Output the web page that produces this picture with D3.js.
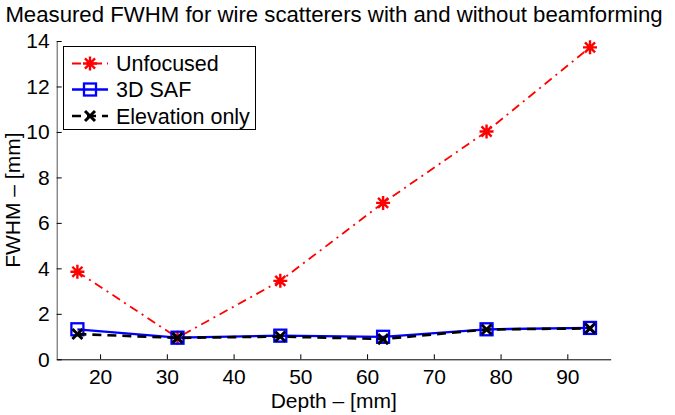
<!DOCTYPE html>
<html><head><meta charset="utf-8">
<script src="https://cdn.jsdelivr.net/npm/d3@7"></script>
<style>body{margin:0;background:#fff}svg{display:block;font-family:"Liberation Sans",Arial,sans-serif}</style>
</head><body><svg id="c" width="675" height="415"></svg>
<script>
const depth = [16.6, 31.6, 47.0, 62.4, 77.9, 93.4];
const unfocused = [3.85, 0.95, 3.45, 6.88, 10.02, 13.72];
const saf3d = [1.32, 0.95, 1.04, 0.99, 1.32, 1.38];
const elevation = [1.11, 0.94, 1.00, 0.89, 1.31, 1.36];
const xTicks = [20, 30, 40, 50, 60, 70, 80, 90];
const yTicks = [0, 2, 4, 6, 8, 10, 12, 14];
const seriesNames = ["Unfocused", "3D SAF", "Elevation only"];

const svg = d3.select("#c");
const x = d3.scaleLinear().domain([13.5, 96.5]).range([56.7, 610.7]);
const y = d3.scaleLinear().domain([0, 14]).range([359.3, 41]);

// axes
const xa = svg.append("g").attr("transform", `translate(0,${y(0)})`)
  .call(d3.axisBottom(x).tickValues(xTicks).tickSizeInner(-5).tickSizeOuter(0).tickPadding(10));
const ya = svg.append("g").attr("transform", `translate(${x.range()[0]},0)`)
  .call(d3.axisLeft(y).tickValues(yTicks).tickSizeInner(-5).tickSizeOuter(0).tickPadding(7));
[xa, ya].forEach(g => {
  g.select(".domain").attr("stroke", "#000").attr("stroke-width", 1);
  g.selectAll(".tick line").attr("stroke", "#000");
  g.selectAll(".tick text").attr("font-size", 21).attr("fill", "#000").attr("font-family", "Liberation Sans, Arial, sans-serif");
});
ya.select(".domain").attr("stroke", "#555");

// labels
svg.append("text").attr("x", 334).attr("y", 22).attr("text-anchor", "middle")
  .attr("font-size", 22.2).text("Measured FWHM for wire scatterers with and without beamforming");
svg.append("text").attr("x", x((13.5+96.5)/2)).attr("y", 408).attr("text-anchor", "middle")
  .attr("font-size", 21).text("Depth – [mm]");
svg.append("text").attr("transform", `translate(20,${y(7)}) rotate(-90)`).attr("text-anchor", "middle")
  .attr("font-size", 21).text("FWHM – [mm]");

const line = d3.line().x(d => x(d[0])).y(d => y(d[1]));
const styles = [
  {vals: unfocused, color: "#ff0000", width: 1.8, dash: "9,5,2,5", marker: "star"},
  {vals: saf3d, color: "#0000ff", width: 2.3, dash: null, marker: "square"},
  {vals: elevation, color: "#000000", width: 2.6, dash: "9,6", marker: "x"}
];

function drawMarker(g, type, cx, cy, color) {
  if (type === "star") {
    const r = 7;
    const p = d3.path();
    p.moveTo(cx - r, cy); p.lineTo(cx + r, cy);
    p.moveTo(cx, cy - r); p.lineTo(cx, cy + r);
    const q = r * 0.72;
    p.moveTo(cx - q, cy - q); p.lineTo(cx + q, cy + q);
    p.moveTo(cx - q, cy + q); p.lineTo(cx + q, cy - q);
    g.append("path").attr("d", p.toString()).attr("stroke", color).attr("stroke-width", 2.4).attr("fill", "none");
  } else if (type === "square") {
    const s = 12;
    g.append("rect").attr("x", cx - s/2).attr("y", cy - s/2).attr("width", s).attr("height", s)
      .attr("fill", "none").attr("stroke", color).attr("stroke-width", 2.3);
  } else {
    const r = 5;
    const p = d3.path();
    p.moveTo(cx - r, cy - r); p.lineTo(cx + r, cy + r);
    p.moveTo(cx - r, cy + r); p.lineTo(cx + r, cy - r);
    g.append("path").attr("d", p.toString()).attr("stroke", color).attr("stroke-width", 3).attr("fill", "none");
  }
}

styles.forEach(s => {
  const data = depth.map((d, i) => [d, s.vals[i]]);
  const g = svg.append("g");
  g.append("path").attr("d", line(data)).attr("fill", "none").attr("stroke", s.color)
    .attr("stroke-width", s.width).attr("stroke-dasharray", s.dash);
  data.forEach(d => drawMarker(g, s.marker, x(d[0]), y(d[1]), s.color));
});

// legend
const lg = svg.append("g");
lg.append("rect").attr("x", 63.5).attr("y", 46.5).attr("width", 192).attr("height", 83)
  .attr("fill", "#fff").attr("stroke", "#000").attr("stroke-width", 1);
const rowsY = [63.5, 89.5, 116];
styles.forEach((s, i) => {
  const yy = rowsY[i];
  lg.append("line").attr("x1", 72).attr("x2", 108).attr("y1", yy).attr("y2", yy)
    .attr("stroke", s.color).attr("stroke-width", s.width).attr("stroke-dasharray", s.dash);
  drawMarker(lg, s.marker, 90, yy, s.color);
  lg.append("text").attr("x", 116).attr("y", yy + 7.5).attr("font-size", 21.5).text(seriesNames[i]);
});
</script></body></html>
